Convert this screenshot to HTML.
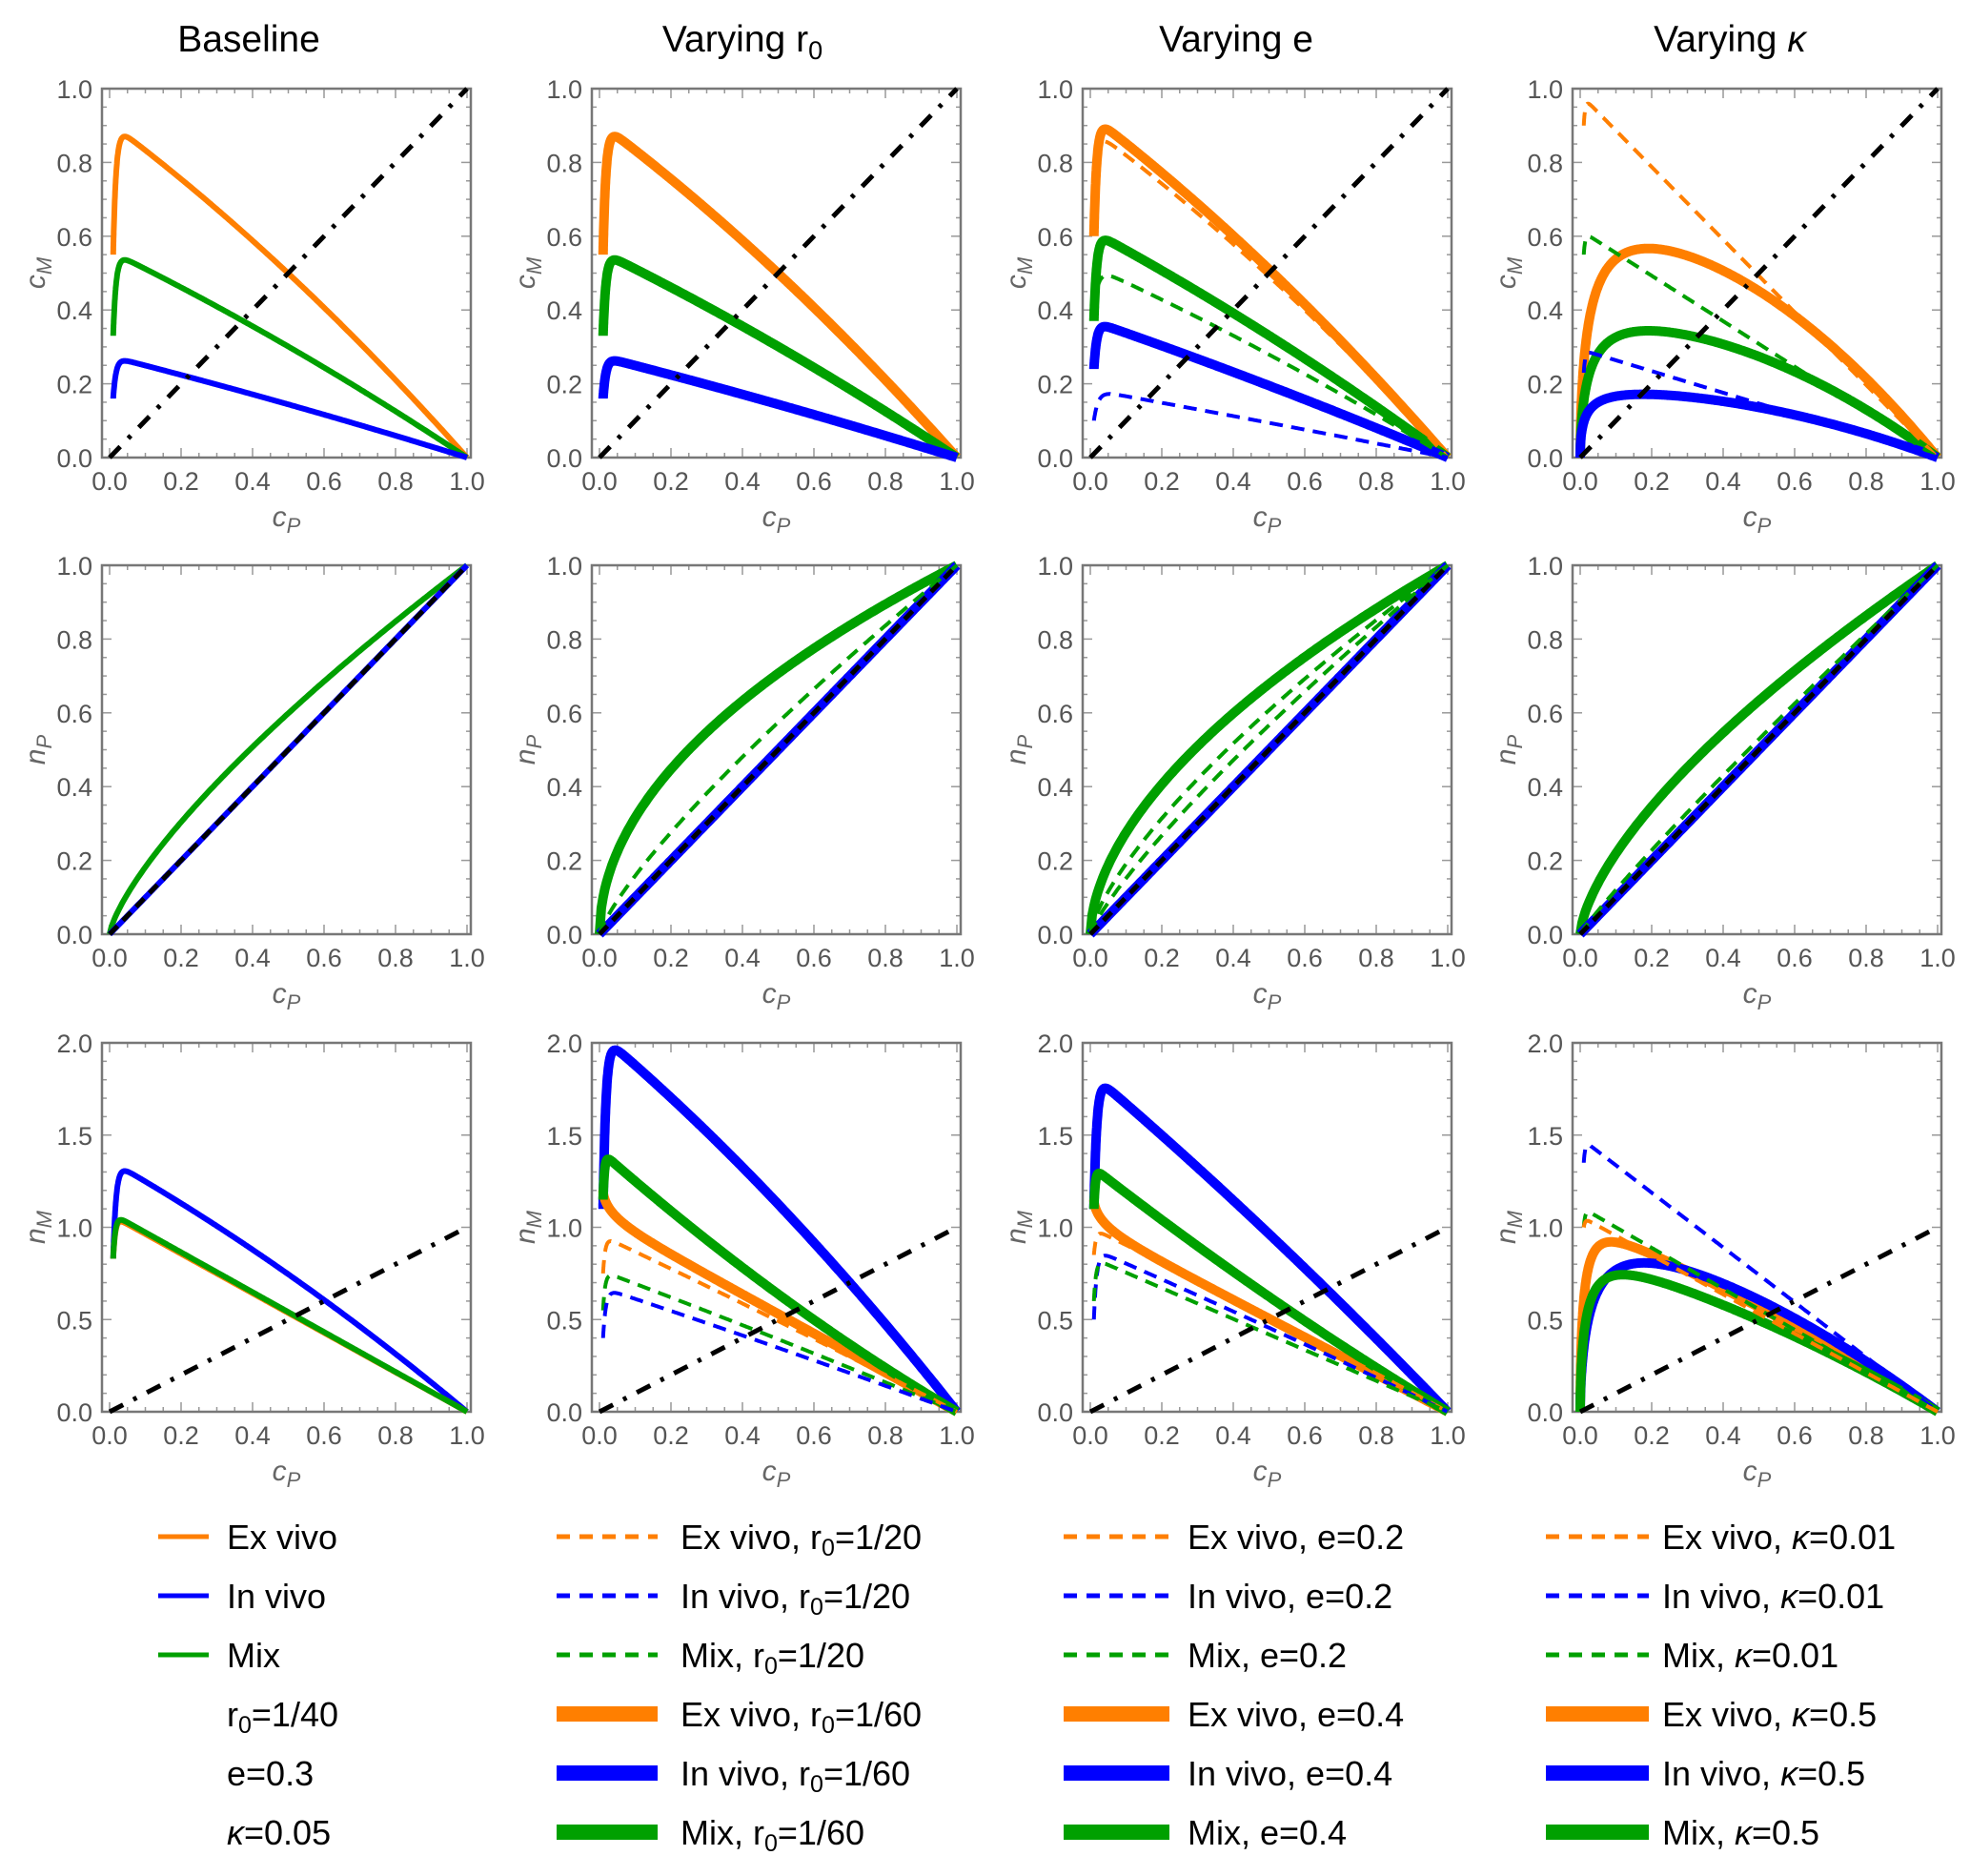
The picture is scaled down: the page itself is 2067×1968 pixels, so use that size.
<!DOCTYPE html>
<html><head><meta charset="utf-8"><style>
body{margin:0;background:#fff}
svg{display:block}
text{font-family:"Liberation Sans",sans-serif}
.tk{font-size:27px;fill:#555}
.ax{font-size:30px;fill:#666;font-style:italic}
.ti{font-size:39px;fill:#000}
.lg{font-size:36px;fill:#000}
</style></head><body>
<svg id="s" width="2067" height="1968" viewBox="0 0 2067 1968" xmlns="http://www.w3.org/2000/svg"></svg>
<script>
const S=document.getElementById('s');let h='';
const L=[107,621,1136,1650],T=[93,593,1094],W=387,H=387;
const O='#ff7f00',B='#0000ff',G='#00a000';
const ST={thin:'stroke-width="6"',thick:'stroke-width="10"',dash:'stroke-width="4" stroke-dasharray="14,9"'};
function X(c,x){return L[c]+8+x*(W-12)}
function Y(r,y,m){return T[r]+H-(y/m)*H}
function hump(c,r,m,col,st,A,x0,y0,tau,e,b){let d='';
 for(let i=0;i<=400;i++){let x=x0+(1-x0)*Math.pow(i/400,2);
  let y=A*((1-x)/(1-x0))*(1+b*(x-x0))*(1-(1-y0/A)*Math.exp(-Math.pow((x-x0)/tau,e)));
  d+=(i?'L':'M')+X(c,x).toFixed(1)+','+Y(r,y,m).toFixed(1);}
 h+=`<path d="${d}" fill="none" stroke="${col}" ${ST[st]} stroke-linejoin="round"/>`;}
function pw(c,r,col,st,q){let d='';for(let i=0;i<=200;i++){let x=i/200;d+=(i?'L':'M')+X(c,x).toFixed(1)+','+Y(r,Math.pow(x,q),1).toFixed(1);}
 h+=`<path d="${d}" fill="none" stroke="${col}" ${ST[st]}/>`;}
function diag(c,r,m,dd){h+=`<line x1="${X(c,0)}" y1="${Y(r,0,m)}" x2="${X(c,1)}" y2="${Y(r,1,m)}" stroke="#000" stroke-width="5" stroke-dasharray="${dd?'12,8':'16,12,4,12'}"/>`;}
function frame(c,r,m){const x0=L[c],y0=T[r];
 for(let i=0;i<=20;i++){let x=X(c,i/20),len=i%4==0?10:5;
  h+=`<line x1="${x}" y1="${y0+H}" x2="${x}" y2="${y0+H-len}" stroke="#999" stroke-width="1.5"/><line x1="${x}" y1="${y0}" x2="${x}" y2="${y0+len}" stroke="#999" stroke-width="1.5"/>`;}
 const mj=m==2?5:4;
 for(let i=0;i<=20;i++){let y=y0+H-i/20*H,len=i%mj==0?10:5;
  h+=`<line x1="${x0}" y1="${y}" x2="${x0+len}" y2="${y}" stroke="#999" stroke-width="1.5"/><line x1="${x0+W}" y1="${y}" x2="${x0+W-len}" y2="${y}" stroke="#999" stroke-width="1.5"/>`;}
 h+=`<rect x="${x0}" y="${y0}" width="${W}" height="${H}" fill="none" stroke="#777" stroke-width="2.5"/>`;
 for(let i=0;i<=5;i++)h+=`<text class="tk" x="${X(c,i/5)}" y="${y0+H+34}" text-anchor="middle">${(i/5).toFixed(1)}</text>`;
 const n=m==2?4:5;
 for(let i=0;i<=n;i++)h+=`<text class="tk" x="${x0-10}" y="${y0+H-i/n*H+10}" text-anchor="end">${(i/n*m).toFixed(1)}</text>`;
 h+=`<text class="ax" x="${x0+W/2}" y="${y0+H+72}" text-anchor="middle">c<tspan font-size="22" dy="7">P</tspan></text>`;
 const lab=r==0?'c':'n',sub=r==1?'P':'M';
 h+=`<text class="ax" transform="translate(${x0-60},${y0+H/2}) rotate(-90)" text-anchor="middle">${lab}<tspan font-size="22" dy="7">${sub}</tspan></text>`;}
for(let c=0;c<4;c++)for(let r=0;r<3;r++)frame(c,r,r==2?2:1);
// row1
hump(0,0,1,O,'thin',.9,.01,.55,.008,1,.2);hump(0,0,1,G,'thin',.555,.01,.33,.008,1,.15);hump(0,0,1,B,'thin',.272,.01,.16,.008,1,.1);
hump(1,0,1,O,'thick',.9,.01,.55,.008,1,.2);hump(1,0,1,G,'thick',.555,.01,.33,.008,1,.15);hump(1,0,1,B,'thick',.272,.01,.16,.008,1,.1);
hump(2,0,1,O,'thick',.92,.01,.6,.008,1,.2);hump(2,0,1,G,'thick',.61,.01,.37,.008,1,.15);hump(2,0,1,B,'thick',.368,.01,.24,.008,1,.1);
hump(2,0,1,O,'dash',.885,.01,.75,.01,1,.2);hump(2,0,1,G,'dash',.515,.01,.4,.012,1,.15);hump(2,0,1,B,'dash',.182,.01,.1,.012,1,.05);
hump(3,0,1,O,'thick',.63,0,0,.03,.6,.88);hump(3,0,1,G,'thick',.382,0,0,.03,.6,.88);hump(3,0,1,B,'thick',.19,0,0,.02,.5,.88);
hump(3,0,1,O,'dash',.975,.01,.9,.004,1,0);hump(3,0,1,G,'dash',.61,.01,.55,.004,1,0);hump(3,0,1,B,'dash',.29,.01,.23,.004,1,0);
for(let c=0;c<4;c++)diag(c,0,1);
// row2
pw(0,1,G,'thin',.74);pw(0,1,B,'thin',1);
pw(1,1,G,'thick',.5);pw(1,1,B,'thick',1);pw(1,1,G,'dash',.8);
pw(2,1,G,'thick',.56);pw(2,1,B,'thick',1);pw(2,1,G,'dash',.72);pw(2,1,G,'dash',.82);
pw(3,1,G,'thick',.66);pw(3,1,B,'thick',1);pw(3,1,G,'dash',.92);
for(let c=0;c<4;c++)diag(c,1,1,1);
// row3
hump(0,2,2,B,'thin',1.35,.01,.83,.008,1,.19);hump(0,2,2,O,'thin',1.06,.01,.83,.006,1,0);hump(0,2,2,G,'thin',1.07,.01,.83,.006,1,0);
hump(1,2,2,B,'thick',2.03,.01,1.1,.008,1,.2);hump(1,2,2,O,'thick',1.05,.01,1.2,.03,.6,0);hump(1,2,2,G,'thick',1.4,.01,1.15,.004,1,-.2);
hump(1,2,2,O,'dash',.95,.01,.75,.006,1,.05);hump(1,2,2,G,'dash',.76,.01,.55,.006,1,.05);hump(1,2,2,B,'dash',.67,.01,.4,.008,1,.05);
hump(2,2,2,B,'thick',1.82,.01,1.1,.008,1,.1);hump(2,2,2,O,'thick',1.0,.01,1.15,.03,.6,0);hump(2,2,2,G,'thick',1.32,.01,1.1,.004,1,-.13);
hump(2,2,2,O,'dash',.99,.01,.85,.006,1,.05);hump(2,2,2,B,'dash',.88,.01,.5,.008,1,.05);hump(2,2,2,G,'dash',.83,.01,.6,.006,1,0);
hump(3,2,2,O,'thick',1.03,0,0,.012,.6,.2);hump(3,2,2,B,'thick',.99,0,0,.04,.6,.48);hump(3,2,2,G,'thick',.86,0,0,.02,.6,.31);
hump(3,2,2,B,'dash',1.47,.01,1.35,.004,1,0);hump(3,2,2,G,'dash',1.1,.01,1.0,.004,1,0);hump(3,2,2,O,'dash',1.05,.01,1.0,.004,1,0);
for(let c=0;c<4;c++)diag(c,2,2);
// titles
const tt=['Baseline','Varying r<tspan font-size="27" dy="8">0</tspan>','Varying e','Varying <tspan font-style="italic">κ</tspan>'];
const tx0=[261,779,1297,1815];
for(let c=0;c<4;c++)h+=`<text class="ti" x="${tx0[c]}" y="54" text-anchor="middle">${tt[c]}</text>`;
// legends
const LY=[1612,1674,1736,1798,1860,1922];
const sx=[[166,219],[584,690],[1116,1227],[1622,1730]],tx=[238,714,1246,1744];
const r0='r<tspan font-size="25" dy="7">0</tspan><tspan dy="-7">';
const K='<tspan font-style="italic">κ</tspan>';
const items=[
 [['thin',O,'Ex vivo'],['thin',B,'In vivo'],['thin',G,'Mix'],[null,0,r0+'=1/40</tspan>'],[null,0,'e=0.3'],[null,0,K+'=0.05']],
 [['dash',O,'Ex vivo, '+r0+'=1/20</tspan>'],['dash',B,'In vivo, '+r0+'=1/20</tspan>'],['dash',G,'Mix, '+r0+'=1/20</tspan>'],['big',O,'Ex vivo, '+r0+'=1/60</tspan>'],['big',B,'In vivo, '+r0+'=1/60</tspan>'],['big',G,'Mix, '+r0+'=1/60</tspan>']],
 [['dash',O,'Ex vivo, e=0.2'],['dash',B,'In vivo, e=0.2'],['dash',G,'Mix, e=0.2'],['big',O,'Ex vivo, e=0.4'],['big',B,'In vivo, e=0.4'],['big',G,'Mix, e=0.4']],
 [['dash',O,'Ex vivo, '+K+'=0.01'],['dash',B,'In vivo, '+K+'=0.01'],['dash',G,'Mix, '+K+'=0.01'],['big',O,'Ex vivo, '+K+'=0.5'],['big',B,'In vivo, '+K+'=0.5'],['big',G,'Mix, '+K+'=0.5']]];
for(let c=0;c<4;c++)items[c].forEach((it,i)=>{const y=LY[i];
 if(it[0]){const sw=it[0]=='big'?'stroke-width="16"':it[0]=='thin'?'stroke-width="5"':'stroke-width="5" stroke-dasharray="14,10"';
  h+=`<line x1="${sx[c][0]}" y1="${y}" x2="${sx[c][1]}" y2="${y}" stroke="${it[1]}" ${sw}/>`;}
 h+=`<text class="lg" x="${tx[c]}" y="${y+13}">${it[2]}</text>`;});
S.innerHTML=h;
</script>
</body></html>
